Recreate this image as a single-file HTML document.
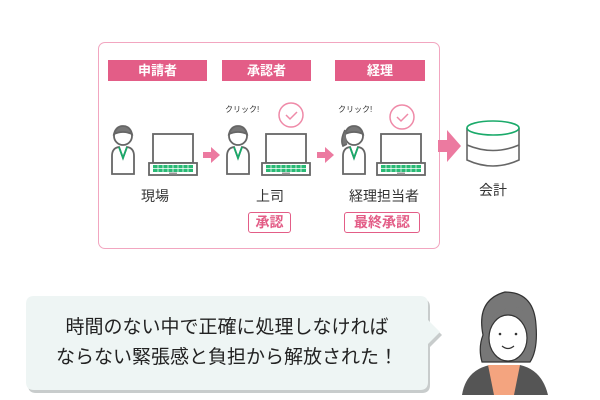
<!DOCTYPE html>
<html><head><meta charset="utf-8"><style>
body{margin:0;width:600px;height:400px;background:#fff;position:relative;overflow:hidden;font-family:"Liberation Sans","Noto Sans CJK JP",sans-serif;color:#333}
.a{position:absolute}
.h{position:absolute;top:60px;height:21px;background:#e35d87;color:#fff;font-size:13px;font-weight:bold;text-align:center;line-height:21px}
.lb{position:absolute;font-size:14px;text-align:center;top:186px}
.bx{position:absolute;top:212px;height:19px;border:1.5px solid #e35d87;border-radius:3px;color:#e35d87;font-size:14px;font-weight:bold;text-align:center;line-height:19px}
.ck{position:absolute;font-size:8px;top:104px}
</style></head><body>
<div class="a" style="left:98px;top:42px;width:340px;height:205px;border:1.5px solid #f2a6c0;border-radius:7px"></div>
<div class="h" style="left:108px;width:99px">申請者</div>
<div class="h" style="left:222px;width:89px">承認者</div>
<div class="h" style="left:335px;width:90px">経理</div>
<div class="ck" style="left:225px">クリック!</div>
<div class="ck" style="left:338px">クリック!</div>
<svg class="a" style="left:0;top:0" width="600" height="400">
<defs>
<g id="p" fill="#fff" stroke="#666" stroke-width="1.8"><path d="M2 50 V32 Q2 24 9 23 L13 34 L17 23 Q24 24 24 32 V50 Z"/><circle cx="13" cy="12" r="9"/><path d="M4 10 Q6 2 13 2 Q20 2 22 10 Q13 6 4 10Z" fill="#777"/><path d="M9 23 L13 34 L17 23" stroke="#1aaa6a" fill="none"/></g>
<g id="l"><rect x="4" y="0" width="40" height="29" fill="#fff" stroke="#666" stroke-width="1.8"/><rect x="0" y="29" width="48" height="12" fill="#fff" stroke="#666" stroke-width="1.8"/><rect x="4" y="31" width="40" height="7" fill="#2aba75"/><path d="M4 34.5 H44 M9 31 V38 M14 31 V38 M19 31 V38 M24 31 V38 M29 31 V38 M34 31 V38 M39 31 V38" stroke="#fff" stroke-width="0.7"/><rect x="20" y="38.5" width="8" height="2" fill="#999"/></g>
<g id="c" fill="none" stroke="#ef8aa8" stroke-width="1.5"><circle r="12"/><path d="M-5 0 L-1 4 L6 -3"/></g>
</defs>
<use href="#p" x="110" y="124"/><use href="#l" x="149" y="134"/>
<use href="#p" x="225" y="124"/><use href="#l" x="262" y="134"/>
<use href="#p" x="341" y="124"/><use href="#l" x="377" y="134"/>
<path d="M345 130 Q340 140 343 146 L347 144" stroke="#666" fill="#777" stroke-width="1.6"/>
<use href="#c" x="291" y="115"/><use href="#c" x="402" y="117"/>
<path d="M203 152 h8 v-5 l9 8 l-9 8 v-5 h-8z" fill="#ec7aa0"/>
<path d="M317 152 h8 v-5 l9 8 l-9 8 v-5 h-8z" fill="#ec7aa0"/>
<path d="M438 140 h9 v-10 l14 16 l-14 16 v-10 h-9z" fill="#ec7aa0"/>
<g fill="#fff" stroke="#666" stroke-width="1.6"><path d="M467 128 V160 Q493 172 519 160 V128"/><path d="M467 145 Q493 156 519 145" fill="none"/><ellipse cx="493" cy="128" rx="26" ry="7" stroke="#1aaa6a"/></g>
<g><path d="M34 296 H420 Q428 296 428 304 V320 L440 332 L428 344 V382 Q428 390 420 390 H34 Q26 390 26 382 V304 Q26 296 34 296Z" fill="#c8cccc" transform="translate(2,3)"/><path d="M34 296 H420 Q428 296 428 304 V320 L440 332 L428 344 V382 Q428 390 420 390 H34 Q26 390 26 382 V304 Q26 296 34 296Z" fill="#eef5f4"/></g>
<path d="M462 395 Q466 370 490 365 L520 365 Q542 370 548 395Z" fill="#555"/>
<path d="M488 365 L520 365 L514 395 L494 395Z" fill="#f4a47f"/>
<path d="M483 335 Q476 300 505 292 Q534 292 536 325 Q538 350 530 362 L482 362 Q478 348 483 335Z" fill="#777" stroke="#333" stroke-width="1.2"/>
<ellipse cx="508" cy="338" rx="19" ry="23" fill="#fff" stroke="#333" stroke-width="1.2"/>
<path d="M486 334 Q490 305 520 308 Q528 315 529 328 Q520 312 505 312 Q492 318 486 334Z" fill="#777"/>
<circle cx="500" cy="334" r="1.3" fill="#333"/><circle cx="516" cy="334" r="1.3" fill="#333"/>
<path d="M502 346 Q508 351 514 346" stroke="#333" fill="none" stroke-width="1.2"/>
</svg>
<div class="lb" style="left:130px;width:50px">現場</div>
<div class="lb" style="left:245px;width:50px">上司</div>
<div class="lb" style="left:344px;width:80px">経理担当者</div>
<div class="lb" style="left:468px;width:50px;top:180px">会計</div>
<div class="bx" style="left:248px;width:41px">承認</div>
<div class="bx" style="left:344px;width:74px">最終承認</div>
<div class="a" style="left:26px;width:402px;top:313px;text-align:center;font-size:19px;line-height:30px;color:#222">時間のない中で正確に処理しなければ<br>ならない緊張感と負担から解放された！</div>
</body></html>
